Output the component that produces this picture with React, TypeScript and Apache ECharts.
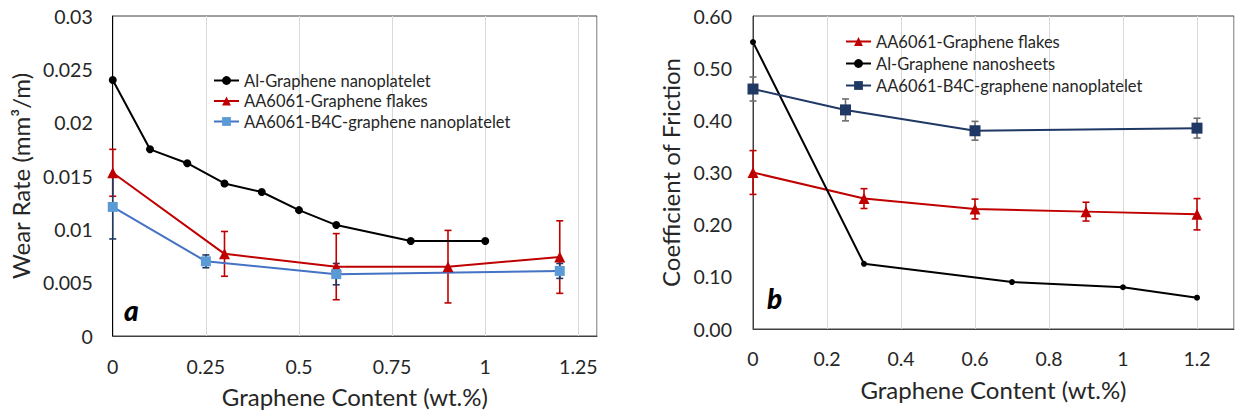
import React, { useEffect, useRef } from "react";
import * as echarts from "echarts";

// ---- Panel a: wear rate ----
const wearAlX = [0, 0.1, 0.2, 0.3, 0.4, 0.5, 0.6, 0.8, 1.0];
const wearAlY = [0.024, 0.0175, 0.0162, 0.0143, 0.0135, 0.0118, 0.0104, 0.0089, 0.0089];
const wearFlakesX = [0, 0.3, 0.6, 0.9, 1.2];
const wearFlakesY = [0.0153, 0.0077, 0.0065, 0.0065, 0.0074];
const wearFlakesErr = [0.0022, 0.0021, 0.0031, 0.0034, 0.0034];
const wearB4CX = [0, 0.25, 0.6, 1.2];
const wearB4CY = [0.0121, 0.007, 0.0058, 0.0061];
const wearB4CErr = [0.003, 0.0006, 0.001, 0.0007];

// ---- Panel b: coefficient of friction ----
const cofFlakesX = [0, 0.3, 0.6, 0.9, 1.2];
const cofFlakesY = [0.3, 0.25, 0.23, 0.225, 0.22];
const cofFlakesErr = [0.042, 0.019, 0.019, 0.018, 0.03];
const cofAlX = [0, 0.3, 0.7, 1.0, 1.2];
const cofAlY = [0.55, 0.125, 0.09, 0.08, 0.06];
const cofB4CX = [0, 0.25, 0.6, 1.2];
const cofB4CY = [0.46, 0.42, 0.38, 0.385];
const cofB4CErr = [0.023, 0.021, 0.018, 0.019];

const namesA = ["Al-Graphene nanoplatelet", "AA6061-Graphene flakes", "AA6061-B4C-graphene nanoplatelet"];
const namesB = ["AA6061-Graphene flakes", "Al-Graphene nanosheets", "AA6061-B4C-graphene nanoplatelet"];

const FONT = "Lato";
const TXT = "#262626";

function pts(xs: number[], ys: number[]) {
  return xs.map((x, i) => [x, ys[i]]);
}

function errSeries(xs: number[], ys: number[], errs: number[], color: string) {
  return {
    type: "custom",
    z: 1,
    silent: true,
    clip: false,
    encode: { x: 0, y: 1 },
    data: xs.map((x, i) => [x, ys[i], errs[i]]),
    renderItem: (params: any, api: any) => {
      const x = api.value(0);
      const y = api.value(1);
      const e = api.value(2);
      const t = api.coord([x, y + e]);
      const b = api.coord([x, y - e]);
      const w = 3.5;
      const st = { stroke: color, lineWidth: 1.6 };
      return {
        type: "group",
        children: [
          { type: "line", shape: { x1: t[0], y1: t[1], x2: b[0], y2: b[1] }, style: st },
          { type: "line", shape: { x1: t[0] - w, y1: t[1], x2: t[0] + w, y2: t[1] }, style: st },
          { type: "line", shape: { x1: b[0] - w, y1: b[1], x2: b[0] + w, y2: b[1] }, style: st },
        ],
      };
    },
  };
}

function lineSeries(name: string, data: number[][], color: string, markerColor: string, symbol: string, size: number) {
  return {
    type: "line",
    name,
    z: 3,
    data,
    symbol,
    symbolSize: size,
    showAllSymbol: true,
    lineStyle: { color, width: 2 },
    itemStyle: { color: markerColor },
  };
}

const axisNameStyle = { fontFamily: FONT, fontSize: 24, color: TXT };
const axisLabelStyle = { fontFamily: FONT, fontSize: 19.5, color: TXT };
const legendText = { fontFamily: FONT, fontSize: 16.5, color: TXT, lineHeight: 17 };

function optionA(): any {
  return {
    animation: false,
    backgroundColor: "#fff",
    textStyle: { fontFamily: FONT },
    grid: { left: 110, top: 16, width: 487, height: 321, show: true, borderColor: "#404040", borderWidth: 1 },
    xAxis: {
      type: "value",
      min: 0,
      max: 1.3,
      interval: 0.25,
      name: "Graphene Content (wt.%)",
      nameLocation: "middle",
      nameGap: 48,
      nameTextStyle: axisNameStyle,
      axisLine: { show: true, lineStyle: { color: "#404040" } },
      axisTick: { show: false },
      axisLabel: { ...axisLabelStyle, margin: 20, showMaxLabel: false, formatter: (v: number) => String(+v.toFixed(2)) },
      splitLine: { show: true, lineStyle: { color: "#D9D9D9", width: 1 } },
    },
    yAxis: {
      type: "value",
      min: 0,
      max: 0.03,
      interval: 0.005,
      name: "Wear Rate (mm³/m)",
      nameLocation: "middle",
      nameGap: 75,
      nameTextStyle: axisNameStyle,
      axisLine: { show: true, lineStyle: { color: "#000" } },
      axisTick: { show: false },
      axisLabel: { ...axisLabelStyle, margin: 20, formatter: (v: number) => String(+v.toFixed(3)) },
      splitLine: { show: false },
    },
    legend: {
      orient: "vertical",
      left: 208,
      top: 67,
      itemWidth: 25,
      itemHeight: 11,
      itemGap: 3.5,
      data: namesA,
      textStyle: legendText,
    },
    graphic: [
      {
        type: "text",
        left: 124,
        top: 296,
        style: { text: "a", fontFamily: FONT, fontSize: 28, fontWeight: 900, fontStyle: "italic", fill: "#000" },
      },
    ],
    series: [
      errSeries(wearFlakesX, wearFlakesY, wearFlakesErr, "#C00000"),
      errSeries(wearB4CX, wearB4CY, wearB4CErr, "#1F3864"),
      lineSeries(namesA[0], pts(wearAlX, wearAlY), "#000", "#000", "circle", 8),
      lineSeries(namesA[1], pts(wearFlakesX, wearFlakesY), "#C00000", "#C00000", "triangle", 11),
      lineSeries(namesA[2], pts(wearB4CX, wearB4CY), "#4472C4", "#5B9BD5", "rect", 10),
    ],
  };
}

function optionB(): any {
  return {
    animation: false,
    backgroundColor: "#fff",
    textStyle: { fontFamily: FONT },
    grid: { left: 133, top: 16, width: 481, height: 313, show: true, borderColor: "#404040", borderWidth: 1 },
    xAxis: {
      type: "value",
      min: 0,
      max: 1.3,
      interval: 0.2,
      name: "Graphene Content (wt.%)",
      nameLocation: "middle",
      nameGap: 48,
      nameTextStyle: axisNameStyle,
      axisLine: { show: true, lineStyle: { color: "#404040" } },
      axisTick: { show: false },
      axisLabel: { ...axisLabelStyle, margin: 19, showMaxLabel: false, formatter: (v: number) => String(+v.toFixed(1)) },
      splitLine: { show: true, lineStyle: { color: "#D9D9D9", width: 1 } },
    },
    yAxis: {
      type: "value",
      min: 0,
      max: 0.6,
      interval: 0.1,
      name: "Coefficient of Friction",
      nameLocation: "middle",
      nameGap: 69,
      nameTextStyle: axisNameStyle,
      axisLine: { show: true, lineStyle: { color: "#404040" } },
      axisTick: { show: false },
      axisLabel: { ...axisLabelStyle, margin: 21, formatter: (v: number) => v.toFixed(2) },
      splitLine: { show: false },
    },
    legend: {
      orient: "vertical",
      left: 220,
      top: 28,
      itemWidth: 25,
      itemHeight: 11,
      itemGap: 5,
      data: namesB,
      textStyle: legendText,
    },
    graphic: [
      {
        type: "text",
        left: 147,
        top: 284,
        style: { text: "b", fontFamily: FONT, fontSize: 28, fontWeight: 900, fontStyle: "italic", fill: "#000" },
      },
    ],
    series: [
      errSeries(cofFlakesX, cofFlakesY, cofFlakesErr, "#C00000"),
      errSeries(cofB4CX, cofB4CY, cofB4CErr, "#6E6E6E"),
      lineSeries(namesB[0], pts(cofFlakesX, cofFlakesY), "#C00000", "#C00000", "triangle", 11),
      lineSeries(namesB[1], pts(cofAlX, cofAlY), "#000", "#000", "circle", 6),
      lineSeries(namesB[2], pts(cofB4CX, cofB4CY), "#1F3864", "#1F3864", "rect", 11),
    ],
  };
}

export default function App() {
  const leftRef = useRef<HTMLDivElement>(null);
  const rightRef = useRef<HTMLDivElement>(null);
  useEffect(() => {
    const c1 = echarts.init(leftRef.current as HTMLDivElement, undefined, { renderer: "svg" });
    c1.setOption(optionA());
    const c2 = echarts.init(rightRef.current as HTMLDivElement, undefined, { renderer: "svg" });
    c2.setOption(optionB());
    return () => {
      c1.dispose();
      c2.dispose();
    };
  }, []);
  return (
    <div style={{ position: "absolute", left: 0, top: 0, width: 1238, height: 413, background: "#fff" }}>
      <div ref={leftRef} style={{ position: "absolute", left: 0, top: 0, width: 620, height: 413 }} />
      <div ref={rightRef} style={{ position: "absolute", left: 620, top: 0, width: 618, height: 413 }} />
    </div>
  );
}
